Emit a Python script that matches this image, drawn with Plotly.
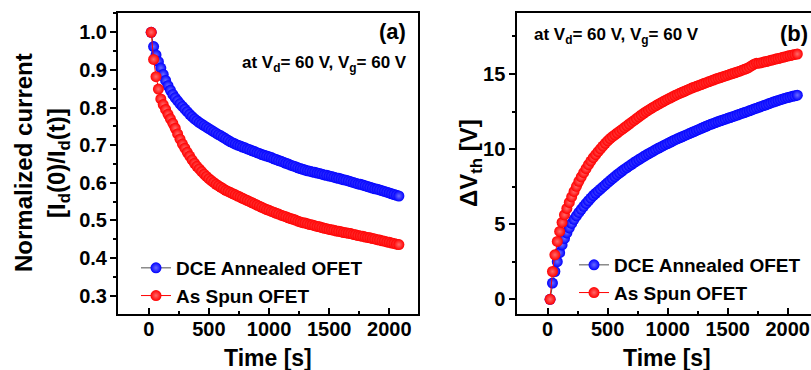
import plotly.graph_objects as go

# ---------------- data ----------------
time_s = list(range(20, 2081, 20))

norm_dce = [1.000, 0.962, 0.940, 0.922, 0.905, 0.888, 0.872, 0.858, 0.846, 0.835,
            0.826, 0.818, 0.810, 0.803, 0.796, 0.789, 0.782, 0.776, 0.770, 0.765,
            0.760, 0.756, 0.752, 0.748, 0.744, 0.740, 0.736, 0.732, 0.728, 0.725,
            0.721, 0.717, 0.713, 0.709, 0.706, 0.703, 0.700, 0.698, 0.695, 0.693,
            0.690, 0.688, 0.685, 0.683, 0.680, 0.678, 0.675, 0.673, 0.671, 0.669,
            0.667, 0.664, 0.662, 0.659, 0.657, 0.655, 0.652, 0.650, 0.647, 0.645,
            0.643, 0.640, 0.638, 0.636, 0.634, 0.632, 0.631, 0.629, 0.628, 0.626,
            0.625, 0.623, 0.621, 0.620, 0.618, 0.617, 0.615, 0.613, 0.612, 0.610,
            0.608, 0.607, 0.605, 0.603, 0.601, 0.599, 0.597, 0.596, 0.594, 0.592,
            0.590, 0.588, 0.586, 0.584, 0.583, 0.581, 0.579, 0.577, 0.575, 0.573,
            0.571, 0.569, 0.567, 0.565]

norm_spun = [1.000, 0.928, 0.882, 0.849, 0.823, 0.808, 0.795, 0.782, 0.770, 0.758,
             0.745, 0.730, 0.716, 0.703, 0.692, 0.681, 0.671, 0.661, 0.652, 0.644,
             0.637, 0.630, 0.623, 0.617, 0.611, 0.606, 0.601, 0.596, 0.592, 0.588,
             0.584, 0.580, 0.577, 0.574, 0.571, 0.568, 0.565, 0.562, 0.559, 0.556,
             0.553, 0.550, 0.547, 0.544, 0.541, 0.538, 0.535, 0.532, 0.529, 0.527,
             0.524, 0.522, 0.519, 0.517, 0.514, 0.512, 0.510, 0.507, 0.505, 0.503,
             0.501, 0.498, 0.496, 0.494, 0.493, 0.491, 0.489, 0.488, 0.486, 0.484,
             0.483, 0.481, 0.479, 0.478, 0.476, 0.475, 0.474, 0.472, 0.471, 0.470,
             0.468, 0.467, 0.466, 0.465, 0.463, 0.462, 0.460, 0.459, 0.458, 0.456,
             0.455, 0.454, 0.452, 0.451, 0.449, 0.448, 0.446, 0.445, 0.443, 0.442,
             0.440, 0.439, 0.437, 0.436]

dvth_dce = [0.00, 1.08, 1.85, 2.50, 3.10, 3.62, 4.05, 4.42, 4.75, 5.05,
            5.32, 5.56, 5.78, 5.99, 6.19, 6.38, 6.56, 6.74, 6.91, 7.06,
            7.20, 7.34, 7.48, 7.62, 7.76, 7.90, 8.04, 8.17, 8.30, 8.42,
            8.54, 8.66, 8.77, 8.88, 8.99, 9.10, 9.20, 9.30, 9.40, 9.50,
            9.60, 9.69, 9.78, 9.87, 9.96, 10.05, 10.13, 10.21, 10.29, 10.37,
            10.45, 10.53, 10.61, 10.68, 10.75, 10.82, 10.89, 10.96, 11.03, 11.10,
            11.17, 11.24, 11.31, 11.38, 11.45, 11.52, 11.59, 11.65, 11.71, 11.77,
            11.83, 11.88, 11.94, 11.99, 12.05, 12.10, 12.16, 12.21, 12.27, 12.32,
            12.38, 12.43, 12.49, 12.55, 12.61, 12.67, 12.72, 12.78, 12.84, 12.90,
            12.95, 13.01, 13.07, 13.13, 13.18, 13.24, 13.29, 13.34, 13.39, 13.43,
            13.47, 13.51, 13.55, 13.59]

dvth_spun = [0.00, 1.85, 2.96, 3.85, 4.52, 5.12, 5.62, 6.05, 6.45, 6.82,
             7.18, 7.52, 7.85, 8.15, 8.43, 8.70, 8.96, 9.20, 9.43, 9.63,
             9.83, 10.02, 10.20, 10.38, 10.55, 10.70, 10.83, 10.95, 11.07, 11.19,
             11.31, 11.43, 11.55, 11.67, 11.79, 11.91, 12.03, 12.15, 12.27, 12.38,
             12.49, 12.59, 12.69, 12.79, 12.88, 12.97, 13.06, 13.15, 13.24, 13.32,
             13.40, 13.48, 13.56, 13.64, 13.71, 13.78, 13.85, 13.92, 13.99, 14.06,
             14.12, 14.18, 14.24, 14.30, 14.36, 14.42, 14.48, 14.54, 14.60, 14.66,
             14.71, 14.76, 14.82, 14.87, 14.92, 14.98, 15.03, 15.08, 15.14, 15.19,
             15.25, 15.31, 15.37, 15.45, 15.55, 15.65, 15.72, 15.72, 15.75, 15.79,
             15.83, 15.87, 15.91, 15.95, 15.99, 16.03, 16.07, 16.11, 16.15, 16.19,
             16.23, 16.27, 16.30, 16.33]

series_names = ["DCE Annealed OFET", "As Spun OFET"]
x_ticks = [0, 500, 1000, 1500, 2000]
ya_ticks = [0.3, 0.4, 0.5, 0.6, 0.7, 0.8, 0.9, 1.0]
yb_ticks = [0, 5, 10, 15]

# ---------------- layout geometry ----------------
W, H = 811, 370
ML, MR, MT, MB = 0, 0, 13, 56
PH = H - MT - MB


def px(xp):
    return xp / W


def py(yp):
    return (H - MB - yp) / PH


FONT = "Liberation Sans, Arial, sans-serif"
BLUE, RED = "#0000ff", "#ff0000"

fig = go.Figure()


def add_pair(xa, ya, y_dce, y_spun, legend):
    fig.add_trace(go.Scatter(
        x=time_s, y=y_dce, name=series_names[0], mode="lines+markers",
        xaxis=xa, yaxis=ya, legend=legend, showlegend=True,
        line=dict(color="#505050", width=1),
        marker=dict(color=BLUE, size=11, line=dict(width=0),
                    gradient=dict(type="radial", color="#6a6aff"))))
    fig.add_trace(go.Scatter(
        x=time_s, y=y_spun, name=series_names[1], mode="lines+markers",
        xaxis=xa, yaxis=ya, legend=legend, showlegend=True,
        line=dict(color=RED, width=1),
        marker=dict(color=RED, size=11, line=dict(width=0),
                    gradient=dict(type="radial", color="#ff6a6a"))))


add_pair("x", "y", norm_dce, norm_spun, "legend")
add_pair("x2", "y2", dvth_dce, dvth_spun, "legend2")

tickfont = dict(family=FONT, size=20, color="black", weight="bold")

xcommon = dict(tickvals=x_ticks, ticks="inside", ticklen=6, tickwidth=1.5,
               tickcolor="black", showline=True, linewidth=2, linecolor="black",
               mirror=True, showgrid=False, zeroline=False, tickfont=tickfont,
               minor=dict(dtick=250, tick0=0, ticks="inside", ticklen=3,
                          tickwidth=1.5, tickcolor="black", showgrid=False),
               ticklabelstandoff=-4)

fig.update_layout(
    width=W, height=H,
    margin=dict(l=ML, r=MR, t=MT, b=MB),
    paper_bgcolor="white", plot_bgcolor="white",
    font=dict(family=FONT, color="black"),
    xaxis=dict(domain=[px(118), px(418)], range=[-256, 2239], anchor="y",
               **xcommon),
    yaxis=dict(domain=[0, 1], range=[0.2514, 1.0513], anchor="x",
               tickvals=ya_ticks, ticktext=[f"{v:.1f}" for v in ya_ticks],
               ticks="outside", ticklen=6, tickwidth=1.5, tickcolor="black",
               showline=True, linewidth=2, linecolor="black", mirror=True,
               showgrid=False, zeroline=False, tickfont=tickfont,
               minor=dict(dtick=0.05, tick0=0, ticks="outside", ticklen=3,
                          tickwidth=1.5, tickcolor="black", showgrid=False),
               ticklabelstandoff=-1),
    xaxis2=dict(domain=[px(517.3), 1.0], range=[-253, 2194], anchor="y2",
                **xcommon),
    yaxis2=dict(domain=[0, 1], range=[-0.98, 19.06], anchor="x2",
                tickvals=yb_ticks, ticks="outside", ticklen=6, tickwidth=1.5,
                tickcolor="black", showline=True, linewidth=2,
                linecolor="black", mirror=False, showgrid=False,
                zeroline=False, tickfont=tickfont,
                minor=dict(dtick=2.5, tick0=0, ticks="outside", ticklen=3,
                           tickwidth=1.5, tickcolor="black", showgrid=False),
                ticklabelstandoff=0),
    legend=dict(x=px(136), y=py(249), xanchor="left", yanchor="top",
                bgcolor="rgba(0,0,0,0)", borderwidth=0, tracegroupgap=0,
                font=dict(family=FONT, size=19, color="black", weight="bold")),
    legend2=dict(x=px(574), y=py(246), xanchor="left", yanchor="top",
                 bgcolor="rgba(0,0,0,0)", borderwidth=0, tracegroupgap=0,
                 font=dict(family=FONT, size=19, color="black", weight="bold")),
)

bold = lambda s: dict(family=FONT, size=s, color="black", weight="bold")
ann = [
    dict(text="Normalized current", x=px(23), y=py(163), textangle=-90,
         font=bold(24)),
    dict(text="[I<sub>d</sub>(0)/I<sub>d</sub>(t)]", x=px(58), y=py(163),
         textangle=-90, font=bold(24)),
    dict(text="Time [s]", x=px(268), y=py(358), font=bold(23)),
    dict(text="Time [s]", x=px(667), y=py(358), font=bold(23)),
    dict(text="ΔV<sub>th</sub> [V]", x=px(470), y=py(163), textangle=-90,
         font=bold(24)),
    dict(text="(a)", x=px(408), y=py(32), xanchor="right", font=bold(22)),
    dict(text="at V<sub>d</sub>= 60 V, V<sub>g</sub>= 60 V", x=px(409),
         y=py(64), xanchor="right", font=bold(17)),
    dict(text="at V<sub>d</sub>= 60 V, V<sub>g</sub>= 60 V", x=px(532),
         y=py(36), xanchor="left", font=bold(17)),
    dict(text="(b)", x=px(778), y=py(33), xanchor="left", font=bold(22)),
]
for a in ann:
    a.setdefault("xanchor", "center")
    fig.add_annotation(xref="paper", yref="paper", showarrow=False,
                       yanchor="middle", **a)

fig.write_html("out.html")
